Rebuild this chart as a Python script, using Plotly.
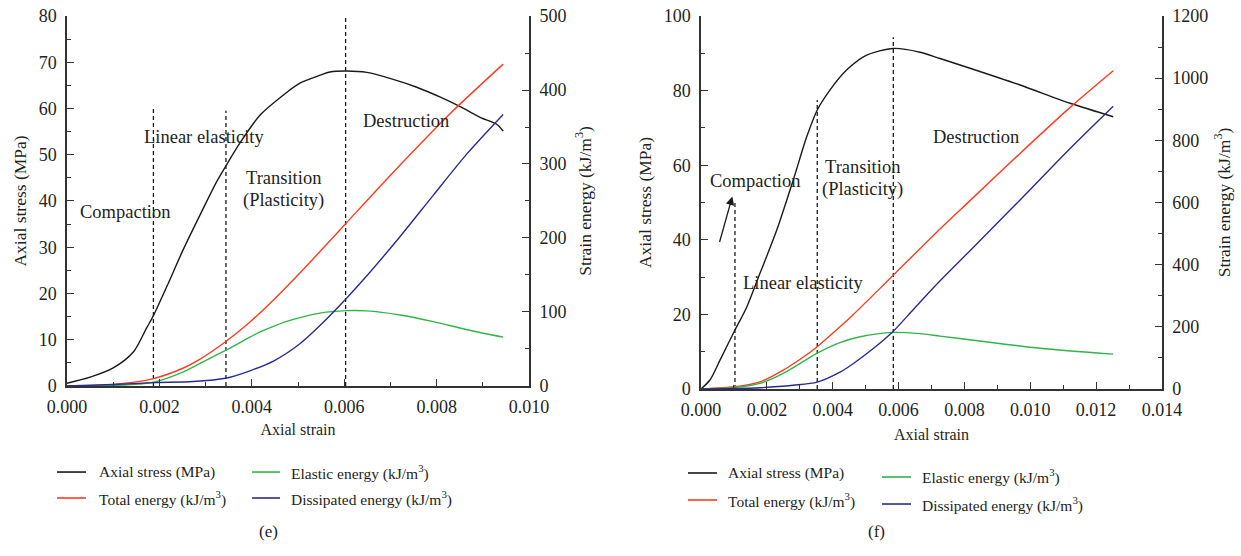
import plotly.graph_objects as go
from plotly.subplots import make_subplots

# ---------------- Panel (e) data ----------------
e_stress_strain = [0, 0.0005, 0.001, 0.00144, 0.00172, 0.00187, 0.00216, 0.00252, 0.00288, 0.00324,
                   0.00344, 0.00374, 0.00418, 0.00468, 0.00504, 0.00548, 0.00569, 0.00605, 0.00649,
                   0.00706, 0.00757, 0.00807, 0.00851, 0.00894, 0.0093, 0.00944]
e_stress = [0.6, 1.9, 3.9, 7.4, 12.5, 15.2, 21.5, 29.6, 37.0, 44.2,
            47.6, 52.5, 58.6, 62.9, 65.5, 67.2, 67.9, 68.1, 67.8,
            66.3, 64.6, 62.5, 60.4, 58.1, 56.6, 55.1]

e_total_strain = [0, 0.001, 0.00187, 0.00252, 0.00288, 0.00343, 0.00396, 0.00448, 0.00504,
                  0.00548, 0.00604, 0.00721, 0.00829, 0.00944]
e_total = [0, 2.2, 10, 24.3, 36.3, 59.7, 86.5, 117, 152.7, 182, 220, 298.7, 368, 435]

e_elastic_strain = [0, 0.001, 0.00187, 0.00252, 0.00273, 0.00288, 0.00343, 0.00396, 0.00418, 0.00448,
                    0.0049, 0.00548, 0.00605, 0.00649, 0.00721, 0.00793, 0.00866, 0.00944]
e_elastic = [0, 0.8, 5, 19, 25.5, 30.5, 48, 66, 73, 81, 90, 98.5, 101.8, 101.5, 96, 87, 76, 66]

e_dissip_strain = [0, 0.001, 0.00187, 0.00273, 0.00343, 0.00396, 0.00448, 0.00504, 0.00548,
                   0.00604, 0.00649, 0.00721, 0.00793, 0.00866, 0.00944]
e_dissip = [0, 2, 4.5, 6, 10.4, 20.5, 34, 57, 82, 118, 149, 202, 258, 314, 367]

e_stage_strain = [0.00187, 0.00344, 0.00603]
e_stage_top = [60, 59.5, 80]

e_labels = ["Compaction", "Linear elasticity", "Transition", "(Plasticity)", "Destruction"]
e_label_x = [0.001255, 0.002965, 0.004675, 0.004675, 0.00734]
e_label_y = [37.6, 53.8, 45.0, 40.2, 57.3]

# ---------------- Panel (f) data ----------------
f_stress_strain = [0, 0.00027, 0.00058, 0.00103, 0.00139, 0.00179, 0.0023, 0.0028, 0.00321, 0.00353,
                   0.00392, 0.00442, 0.00503, 0.00584, 0.00665, 0.00726, 0.00817, 0.00969, 0.01121, 0.01252]
f_stress = [0, 2.4, 7.8, 15.8, 22, 31, 42.6, 56, 67.6, 74.8,
            80.2, 85.5, 89.5, 91.3, 90.3, 88.6, 86, 81.5, 76.6, 73]

f_total_strain = [0, 0.00103, 0.00179, 0.0025, 0.003, 0.00353, 0.00422, 0.00463, 0.00564,
                  0.00726, 0.00817, 0.00969, 0.01121, 0.01252]
f_total = [0, 7, 23, 61, 95, 136, 200, 240, 345, 515, 606, 758, 906, 1024]

f_elastic_strain = [0, 0.00103, 0.00179, 0.0025, 0.00353, 0.00422, 0.00483, 0.00584, 0.00665, 0.00726,
                    0.00827, 0.0103, 0.01252]
f_elastic = [0, 5, 18, 50, 115, 149, 168, 182, 178, 170, 157, 131, 112]

f_dissip_strain = [0, 0.00103, 0.00179, 0.0028, 0.00353, 0.00422, 0.00463, 0.00523, 0.00584, 0.00645,
                   0.00726, 0.00817, 0.00969, 0.01121, 0.01252]
f_dissip = [0, 1.5, 4, 12, 22, 54, 82, 130, 186, 256, 348, 445, 608, 774, 910]

f_stage_strain = [0.00103, 0.00353, 0.00584]
f_stage_top = [50, 77.5, 94.3]

f_labels = ["Compaction", "Transition", "(Plasticity)", "Linear elasticity", "Destruction"]
f_label_x = [0.00164, 0.00489, 0.00489, 0.0031, 0.00835]
f_label_y = [55.8, 59.5, 53.4, 28.4, 67.6]

f_arrow_head = (0.00095, 51.6)
f_arrow_tail = (0.00055, 39.0)

legend_names = ["Axial stress (MPa)", "Total energy (kJ/m<sup>3</sup>)",
                "Elastic energy (kJ/m<sup>3</sup>)", "Dissipated energy (kJ/m<sup>3</sup>)"]

# ---------------- Styles ----------------
FONT = "Liberation Serif"
TXT = "#231f20"
AX = "#333333"
BLACK = "#1a1a1a"
RED = "#ff3b1f"
GREEN = "#30b44a"
BLUE = "#2b2a92"
colors = [BLACK, RED, GREEN, BLUE]

fig = make_subplots(rows=1, cols=2, specs=[[{"secondary_y": True}, {"secondary_y": True}]])

LINE = dict(width=1.4, shape="spline", smoothing=0.8)


def add_panel(col, stress, total, elastic, dissip, stage_x, stage_top):
    fig.add_trace(go.Scatter(x=stress[0], y=stress[1], mode="lines", name=legend_names[0],
                             line=dict(color=BLACK, **LINE), showlegend=False),
                  row=1, col=col, secondary_y=False)
    for (sx, sy), nm, c in zip([total, elastic, dissip], legend_names[1:], colors[1:]):
        fig.add_trace(go.Scatter(x=sx, y=sy, mode="lines", name=nm,
                                 line=dict(color=c, **LINE), showlegend=False),
                      row=1, col=col, secondary_y=True)
    for xv, top in zip(stage_x, stage_top):
        fig.add_trace(go.Scatter(x=[xv, xv], y=[0, top], mode="lines",
                                 line=dict(color=BLACK, width=1.3, dash="4px,3px"),
                                 showlegend=False, hoverinfo="skip"),
                      row=1, col=col, secondary_y=False)


add_panel(1, (e_stress_strain, e_stress), (e_total_strain, e_total),
          (e_elastic_strain, e_elastic), (e_dissip_strain, e_dissip), e_stage_strain, e_stage_top)
add_panel(2, (f_stress_strain, f_stress), (f_total_strain, f_total),
          (f_elastic_strain, f_elastic), (f_dissip_strain, f_dissip), f_stage_strain, f_stage_top)

tickfont = dict(family=FONT, size=18, color=TXT)
common = dict(showline=True, linecolor=AX, linewidth=1.5, ticks="inside", tickcolor=AX,
              ticklen=7, tickwidth=1.2, showgrid=False, zeroline=False, tickfont=tickfont,
              automargin=False)
minor_common = dict(ticks="inside", ticklen=4, tickcolor=AX, tickwidth=1.2, showgrid=False)
ytitle_font = dict(family=FONT, size=17.5, color=TXT)
xtitle_font = dict(family=FONT, size=16, color=TXT)

fig.update_layout(
    width=1241, height=556,
    margin=dict(l=0, r=0, t=0, b=0),
    paper_bgcolor="white", plot_bgcolor="white",
    font=dict(family=FONT, color=TXT),
    showlegend=False,
    xaxis=dict(domain=[0.054, 0.4263], range=[0, 0.010], dtick=0.002, tickformat=".3f",
               minor=dict(dtick=0.001, **minor_common), ticklabelstandoff=4,
               title=dict(text="Axial strain", font=xtitle_font, standoff=7), **common),
    yaxis=dict(domain=[0.3058, 0.9712], range=[0, 80], dtick=10, minor=dict(dtick=5, **minor_common),
               ticklabelstandoff=5,
               title=dict(text="Axial stress (MPa)", font=ytitle_font, standoff=8), **common),
    yaxis2=dict(range=[0, 500], dtick=100, minor=dict(dtick=50, **minor_common), side="right",
                ticklabelstandoff=5,
                title=dict(text="Strain energy (kJ/m<sup>3</sup>)", font=ytitle_font, standoff=13),
                **common),
    xaxis2=dict(domain=[0.5649, 0.9363], range=[0, 0.014], dtick=0.002, tickformat=".3f",
                minor=dict(dtick=0.001, **minor_common), ticklabelstandoff=4,
                title=dict(text="Axial strain", font=xtitle_font, standoff=9), **common),
    yaxis3=dict(domain=[0.3004, 0.9712], range=[0, 100], dtick=20, minor=dict(dtick=10, **minor_common),
                ticklabelstandoff=5,
                title=dict(text="Axial stress (MPa)", font=ytitle_font, standoff=8), **common),
    yaxis4=dict(range=[0, 1200], dtick=200, minor=dict(dtick=100, **minor_common), side="right",
                ticklabelstandoff=5,
                title=dict(text="Strain energy (kJ/m<sup>3</sup>)", font=ytitle_font, standoff=10),
                **common),
)

annos = []
for t, x, y in zip(e_labels, e_label_x, e_label_y):
    annos.append(dict(text=t, x=x, y=y, xref="x", yref="y", showarrow=False,
                      font=dict(family=FONT, size=18.5, color=TXT)))
for t, x, y in zip(f_labels, f_label_x, f_label_y):
    annos.append(dict(text=t, x=x, y=y, xref="x2", yref="y3", showarrow=False,
                      font=dict(family=FONT, size=18.5, color=TXT)))
annos.append(dict(x=f_arrow_head[0], y=f_arrow_head[1], ax=f_arrow_tail[0], ay=f_arrow_tail[1],
                  xref="x2", yref="y3", axref="x2", ayref="y3", text="", showarrow=True,
                  arrowhead=2, arrowsize=1.3, arrowwidth=1.3, arrowcolor=BLACK))

# manual legends (two columns per panel)
legend_layout = [
    [(0.0459, 0.0693, 0.0782, 0.151), (0.0459, 0.0693, 0.0782, 0.1043),
     (0.2031, 0.2256, 0.2329, 0.151), (0.2031, 0.2256, 0.2329, 0.1043)],
    [(0.5544, 0.5778, 0.5850, 0.1493), (0.5544, 0.5778, 0.5850, 0.1007),
     (0.7107, 0.7341, 0.7413, 0.1421), (0.7107, 0.7341, 0.7413, 0.0935)],
]
shapes = []
for panel in legend_layout:
    for (x0, x1, tx, yy), nm, c in zip(panel, legend_names, colors):
        shapes.append(dict(type="line", xref="paper", yref="paper", x0=x0, x1=x1, y0=yy, y1=yy,
                           line=dict(color=c, width=1.6)))
        annos.append(dict(text=nm, x=tx, y=yy, xref="paper", yref="paper", xanchor="left",
                          yanchor="middle", showarrow=False, font=dict(family=FONT, size=15.5, color=TXT)))

annos.append(dict(text="(e)", x=0.2071, y=0.0234, xref="paper", yref="paper", showarrow=False,
                  font=dict(family=FONT, size=17, color=TXT)))
annos.append(dict(text="(f)", x=0.7147, y=0.0234, xref="paper", yref="paper", showarrow=False,
                  font=dict(family=FONT, size=17, color=TXT)))

fig.update_layout(annotations=annos, shapes=shapes)
fig.write_html("out.html")
